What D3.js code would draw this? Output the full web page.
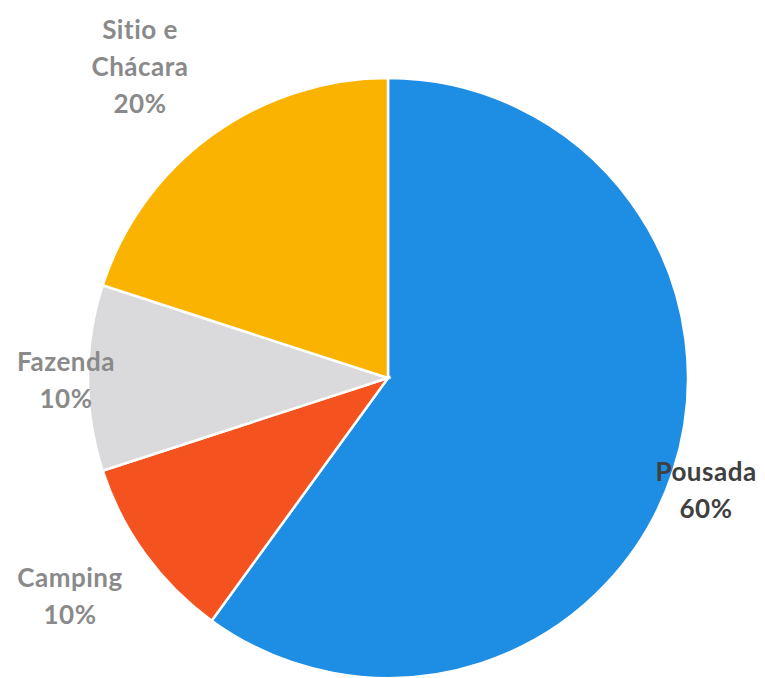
<!DOCTYPE html>
<html>
<head>
<meta charset="utf-8">
<script src="https://cdn.jsdelivr.net/npm/d3@7"></script>
<style>
  body { margin: 0; background: #fff; }
  text { font-family: Lato, "Open Sans", sans-serif; font-weight: bold; }
</style>
</head>
<body>
<script>
// data, in drawing order (clockwise from 12 o'clock)
var categories = ["Pousada", "Camping", "Fazenda", "Sitio e Chácara"];
var values = [60, 10, 10, 20];
var colors = ["#1e8de4", "#f4521f", "#dadadd", "#fbb301"];
var labelLines = [["Pousada", "60%"], ["Camping", "10%"], ["Fazenda", "10%"], ["Sitio e", "Chácara", "20%"]];

var width = 765, height = 678;
var cx = 388, cy = 378, radius = 300;

var svg = d3.select("body").append("svg")
    .attr("width", width)
    .attr("height", height);

var pie = d3.pie().sort(null).value(function(d) { return d; });
var arc = d3.arc().innerRadius(0).outerRadius(radius);

var g = svg.append("g")
    .attr("transform", "translate(" + cx + "," + cy + ")");

g.selectAll("path")
    .data(pie(values))
    .enter().append("path")
    .attr("d", arc)
    .attr("fill", function(d, i) { return colors[i]; })
    .attr("stroke", "#fff")
    .attr("stroke-width", 2.5);

// labels placed outside the pie (outside-end style)
var labelPos = [[706, 472], [70, 578], [66, 362], [140, 30]];
var lineH = 37;

labelLines.forEach(function(lines, i) {
  var t = svg.append("text")
      .attr("text-anchor", "middle")
      .attr("font-size", 26)
      .attr("letter-spacing", 0.5)
      .attr("fill", i === 0 ? "#404040" : "#8a8a8a")
      .attr("transform", "translate(" + labelPos[i][0] + "," + labelPos[i][1] + ")");
  lines.forEach(function(s, j) {
    t.append("tspan")
        .attr("x", 0)
        .attr("y", j * lineH)
        .attr("dy", "0.35em")
        .text(s);
  });
});
</script>
</body>
</html>
